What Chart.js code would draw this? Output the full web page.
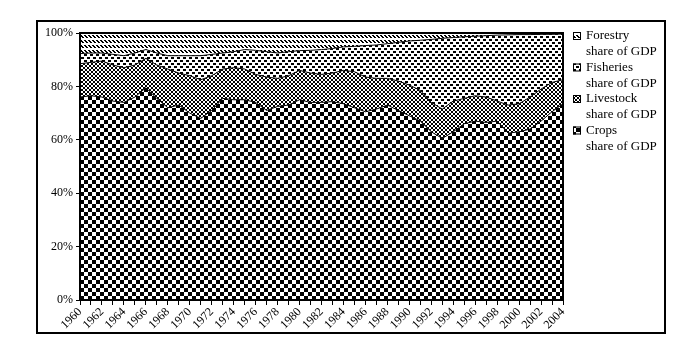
<!DOCTYPE html>
<html>
<head>
<meta charset="utf-8">
<script src="https://cdn.jsdelivr.net/npm/chart.js@4.4.0/dist/chart.umd.min.js"></script>
<style>
  html, body { margin: 0; padding: 0; background: #fff; }
  #wrap { width: 700px; height: 350px; position: relative; }
</style>
</head>
<body>
<div id="wrap"><canvas id="chart" width="700" height="350"></canvas></div>
<script>
// agriculture GDP shares, %

const years = ['1960','1961','1962','1963','1964','1965','1966','1967','1968','1969',
  '1970','1971','1972','1973','1974','1975','1976','1977','1978','1979',
  '1980','1981','1982','1983','1984','1985','1986','1987','1988','1989',
  '1990','1991','1992','1993','1994','1995','1996','1997','1998','1999',
  '2000','2001','2002','2003','2004'];

const crops = [76, 76.5, 76, 74.5, 74, 76, 79.5, 75.5, 72, 73,
  70, 68, 71, 75.5, 75, 75, 74, 71, 72.5, 73,
  75, 74, 74, 74.3, 73.5, 72, 70.5, 71.5, 73, 71,
  69, 67, 63, 60.5, 63, 66, 67, 66.5, 67, 62.5,
  63, 64, 67, 70.5, 73.5];

const livestock = [12.5, 12.5, 13.5, 13.5, 13, 12, 11, 12.5, 14.5, 12,
  14, 14.5, 13, 11, 12, 11.5, 10.5, 12.5, 10.5, 11,
  11, 11, 10.5, 10.7, 12.5, 13.5, 13, 11.5, 10, 11,
  11.5, 11.5, 11, 11, 11.5, 9.5, 9.5, 9.5, 7.5, 10.5,
  10.5, 12, 12, 11, 9];

const fisheries = [3.8, 3.5, 3, 4, 4.5, 4.5, 3.3, 4.5, 5, 6.5,
  7.5, 9, 8, 6, 6, 7.3, 9, 9.5, 9.5, 9,
  7.4, 8.5, 9.3, 9.2, 8.8, 9.5, 11.8, 12.5, 13, 14.5,
  16.5, 18.8, 23.6, 26.5, 23.8, 23.1, 22.3, 23, 24.7, 26.3,
  25.9, 23.4, 20.5, 18, 17.1];

const forestry = [7.7, 7.5, 7.5, 8, 8.5, 7.5, 6.2, 7.5, 8.5, 8.5,
  8.5, 8.5, 8, 7.5, 7, 6.2, 6.5, 7, 7.5, 7,
  6.6, 6.5, 6.2, 5.8, 5.2, 5, 4.7, 4.5, 4, 3.5,
  3, 2.7, 2.4, 2, 1.7, 1.4, 1.2, 1, 0.8, 0.7,
  0.6, 0.6, 0.5, 0.5, 0.4];

const yTicks = [0, 20, 40, 60, 80, 100];

const legendLabels = [
  ['Forestry', 'share of GDP'],
  ['Fisheries', 'share of GDP'],
  ['Livestock', 'share of GDP'],
  ['Crops', 'share of GDP']
];

/* ─────────────────────────────────────────────
   Fill patterns
───────────────────────────────────────────── */

function makePattern(w, h, draw) {
  const c = document.createElement('canvas');
  c.width = w;
  c.height = h;
  const g = c.getContext('2d');
  g.fillStyle = '#fff';
  g.fillRect(0, 0, w, h);
  g.fillStyle = '#000';
  draw(g);
  return g.createPattern(c, 'repeat');
}

// big checkerboard
const patCrops = makePattern(8, 8, g => {
  g.fillRect(0, 0, 4, 4);
  g.fillRect(4, 4, 4, 4);
});

// diagonal cross-hatch
const patLivestock = makePattern(4, 4, g => {
  for (let i = 0; i < 4; i++) {
    g.fillRect(i, i, 1, 1);
    g.fillRect(3 - i, i, 1, 1);
  }
});

// staggered small squares
const patFisheries = makePattern(6, 6, g => {
  g.fillRect(0, 0, 3, 2);
  g.fillRect(3, 3, 3, 2);
});

// short back-slash strokes
const patForestry = makePattern(4, 5, g => {
  g.fillRect(0, 0, 2, 1);
  g.fillRect(1, 1, 2, 1);
  g.fillRect(2, 2, 2, 1);
});

const legendPatterns = [patForestry, patFisheries, patLivestock, patCrops];

/* ─────────────────────────────────────────────
   Frame + legend plugin
───────────────────────────────────────────── */

const framePlugin = {
  id: 'frame',
  beforeDraw(chart) {
    const ctx = chart.ctx;
    ctx.save();
    ctx.fillStyle = '#fff';
    ctx.fillRect(0, 0, chart.width, chart.height);
    ctx.strokeStyle = '#000';
    ctx.lineWidth = 2;
    ctx.strokeRect(37, 21, 628, 312);
    ctx.restore();
  },
  afterDatasetsDraw(chart) {
    const ctx = chart.ctx;
    const a = chart.chartArea;
    ctx.save();
    ctx.strokeStyle = '#000';
    ctx.lineWidth = 2;
    ctx.strokeRect(a.left, a.top, a.right - a.left, a.bottom - a.top);
    ctx.restore();
  },
  afterDraw(chart) {
    const ctx = chart.ctx;
    ctx.save();
    ctx.font = '13px "Liberation Serif"';
    ctx.textBaseline = 'middle';
    legendLabels.forEach((lines, i) => {
      const y = 36 + i * 31.5;
      ctx.fillStyle = legendPatterns[i];
      ctx.fillRect(573, y - 4, 8, 8);
      ctx.strokeStyle = '#000';
      ctx.lineWidth = 1;
      ctx.strokeRect(573.5, y - 3.5, 7, 7);
      ctx.fillStyle = '#000';
      ctx.fillText(lines[0], 586, y);
      ctx.fillText(lines[1], 586, y + 16);
    });
    ctx.restore();
  }
};

/* ─────────────────────────────────────────────
   Chart
───────────────────────────────────────────── */

const serif = 'Liberation Serif';

function series(label, data, pattern, fill) {
  return {
    label: label,
    data: data,
    backgroundColor: pattern,
    borderColor: '#000',
    borderWidth: 1,
    pointRadius: 0,
    tension: 0,
    fill: fill
  };
}

new Chart(document.getElementById('chart'), {
  type: 'line',
  data: {
    labels: years,
    datasets: [
      series('Crops share of GDP', crops, patCrops, 'origin'),
      series('Livestock share of GDP', livestock, patLivestock, '-1'),
      series('Fisheries share of GDP', fisheries, patFisheries, '-1'),
      series('Forestry share of GDP', forestry, patForestry, '-1')
    ]
  },
  options: {
    responsive: false,
    animation: false,
    layout: { padding: { left: 35, right: 137, top: 33, bottom: 10 } },
    plugins: {
      legend: { display: false },
      tooltip: { enabled: false }
    },
    scales: {
      x: {
        offset: false,
        grid: { display: true, drawOnChartArea: false, tickLength: 5, color: '#000' },
        border: { display: true, color: '#000', width: 2 },
        ticks: {
          autoSkip: false,
          minRotation: 45,
          maxRotation: 45,
          padding: 0,
          color: '#000',
          font: { family: serif, size: 12 },
          callback: (v, i) => (i % 2 === 0 ? years[i] : '')
        },
        afterFit: s => { s.height = 40; }
      },
      y: {
        stacked: true,
        min: 0,
        max: 100,
        afterBuildTicks: s => { s.ticks = yTicks.map(v => ({ value: v })); },
        grid: { display: true, drawOnChartArea: false, tickLength: 4, color: '#000' },
        border: { display: true, color: '#000', width: 2 },
        ticks: {
          padding: 3,
          color: '#000',
          font: { family: serif, size: 12 },
          callback: v => v + '%'
        },
        afterFit: s => { s.width = 45; }
      }
    }
  },
  plugins: [framePlugin]
});
</script>
</body>
</html>
